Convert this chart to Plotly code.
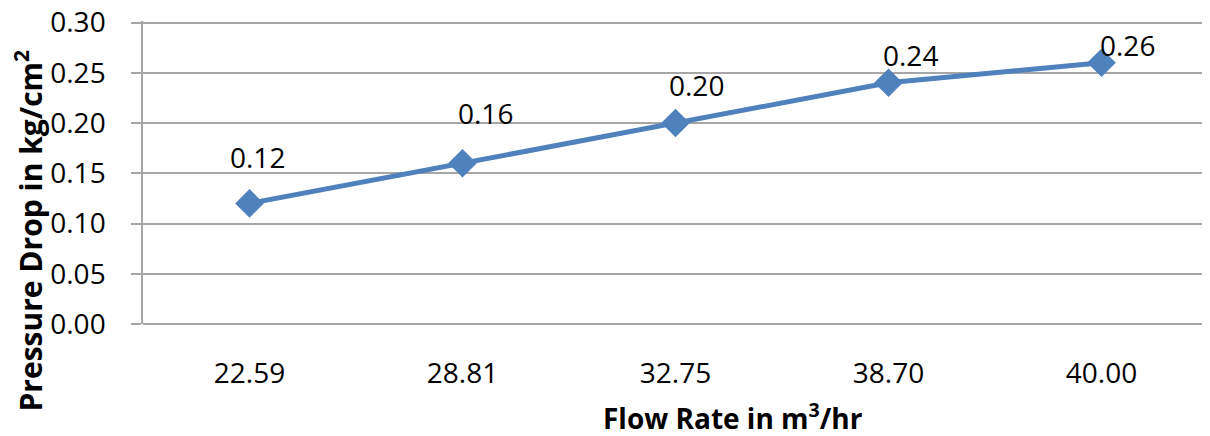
import plotly.graph_objects as go

categories = ["22.59", "28.81", "32.75", "38.70", "40.00"]
pressure_drop = [0.12, 0.16, 0.20, 0.24, 0.26]
label_texts = ["0.12", "0.16", "0.20", "0.24", "0.26"]
y_ticks = [0.00, 0.05, 0.10, 0.15, 0.20, 0.25, 0.30]

# label offsets in pixels (style only)
label_dx = [8, 23, 21, 22, 26]
label_dy = [46, 50, 38, 28, 18]

FONT = "Open Sans, sans-serif"
BLUE = "#4F81BD"
GRID = "#A6A6A6"

fig = go.Figure()
fig.add_trace(go.Scatter(
    x=categories, y=pressure_drop, mode="lines+markers",
    line=dict(color=BLUE, width=5),
    marker=dict(symbol="diamond", size=22, color=BLUE),
    showlegend=False, hoverinfo="skip",
))

for i, (v, t, dx, dy) in enumerate(zip(pressure_drop, label_texts, label_dx, label_dy)):
    fig.add_annotation(x=i, y=v, xref="x", yref="y", text=t, showarrow=False,
                       xshift=dx, yshift=dy,
                       font=dict(family=FONT, size=28, color="#000000"))

# axis titles placed like the reference (offset from the plot-area centre)
fig.add_annotation(x=0, y=0.5, xref="paper", yref="paper",
                   text="<b>Pressure Drop in kg/cm<sup>2</sup></b>", textangle=-90,
                   showarrow=False, xanchor="center", yanchor="middle",
                   xshift=-114, yshift=-58,
                   font=dict(family=FONT, size=30, color="#000000"))
fig.add_annotation(x=0.5, y=0, xref="paper", yref="paper",
                   text="<b>Flow Rate in m<sup>3</sup>/hr</b>",
                   showarrow=False, xanchor="center", yanchor="middle",
                   xshift=57, yshift=-92,
                   font=dict(family=FONT, size=28, color="#000000"))

# the page body adds an 8px margin, so the figure is sized to fit the window
fig.update_layout(
    width=1202, height=428,
    margin=dict(l=135, r=2, t=13, b=112),
    paper_bgcolor="white", plot_bgcolor="white",
    font=dict(family=FONT, color="#000000"),
)
fig.update_xaxes(
    type="category", range=[-0.5, 4.5],
    showgrid=False, showline=False, ticks="",
    tickfont=dict(size=28, family=FONT),
    ticklabelstandoff=30,
    automargin=False,
    fixedrange=True,
)
fig.update_yaxes(
    range=[0, 0.3015], tickvals=y_ticks, tickformat=".2f",
    showgrid=True, gridcolor=GRID, gridwidth=1.5,
    showline=True, linecolor=GRID, linewidth=1.5,
    ticks="outside", ticklen=10, tickcolor=GRID, tickwidth=1.5,
    ticklabelstandoff=20, ticklabeloverflow="allow",
    zeroline=True, zerolinecolor=GRID, zerolinewidth=1.5,
    tickfont=dict(size=28, family=FONT),
    automargin=False,
    fixedrange=True,
)

fig.write_html("out.html")
